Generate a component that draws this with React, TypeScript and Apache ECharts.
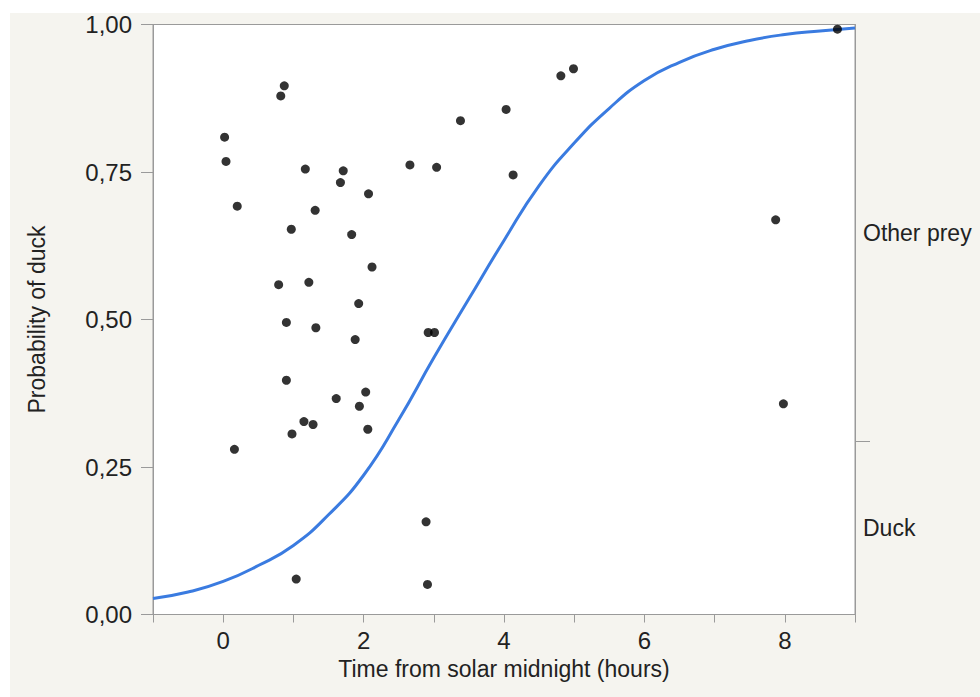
import React, { useEffect, useRef } from "react";
import * as echarts from "echarts";

// Observations: time from solar midnight (hours) and jittered position
const obsTime = [
  0.02, 0.04, 0.2, 0.82, 0.87, 1.17, 1.71, 1.67, 2.66, 2.07, 1.31, 0.97, 1.83, 2.12, 0.79,
  1.22, 1.93, 0.9, 1.32, 1.88, 2.92, 3.01, 0.9, 1.61, 2.03, 1.94, 1.15, 1.28, 0.98, 2.06,
  0.16, 2.89, 1.04, 2.91, 3.04, 3.38, 4.03, 4.13, 4.81, 4.99, 8.75, 7.87, 7.98,
];
const obsProb = [
  0.809, 0.768, 0.692, 0.879, 0.896, 0.755, 0.752, 0.732, 0.762, 0.713, 0.685, 0.653, 0.644,
  0.589, 0.559, 0.563, 0.527, 0.495, 0.486, 0.466, 0.478, 0.478, 0.397, 0.366, 0.377, 0.353,
  0.327, 0.322, 0.306, 0.314, 0.28, 0.157, 0.06, 0.051, 0.758, 0.837, 0.856, 0.745, 0.913,
  0.925, 0.992, 0.669, 0.357,
];

// Fitted logistic curve (every half hour)
const curveTime = [
  -1, -0.5, 0, 0.5, 1, 1.5, 2, 2.5, 3, 3.5, 4, 4.5, 5, 5.5, 6, 6.5, 7, 7.5, 8, 8.5, 9,
];
const curveProb = [
  0.027, 0.038, 0.056, 0.083, 0.117, 0.169, 0.236, 0.33, 0.435, 0.535, 0.634, 0.727, 0.799,
  0.858, 0.905, 0.936, 0.958, 0.973, 0.983, 0.989, 0.994,
];

// Right-hand axis: share of duck outcomes
const duckShare = 0.293;
const rightLabels = ["Duck", "Other prey"];

const xTickLabels = ["0", "2", "4", "6", "8"];

const FONT = "'Liberation Sans', Arial, Helvetica, sans-serif";
const AXIS_GREY = "#9a9a9a";
const TEXT = "#222222";

export default function App() {
  const ref = useRef<HTMLDivElement>(null);

  useEffect(() => {
    if (!ref.current) return;
    const chart = echarts.init(ref.current, null, { renderer: "svg" });
    const points = obsTime.map((t, i) => [t, obsProb[i]]);
    const curve = curveTime.map((t, i) => [t, curveProb[i]]);

    chart.setOption({
      animation: false,
      backgroundColor: "#ffffff",
      textStyle: { fontFamily: FONT },
      graphic: [
        {
          type: "rect",
          z: -10,
          silent: true,
          shape: { x: 10, y: 13, width: 980, height: 700 },
          style: { fill: "#f5f4ef" },
        },
      ],
      grid: {
        left: 153,
        right: 125,
        top: 24.5,
        bottom: 82.5,
        show: true,
        backgroundColor: "#ffffff",
        borderColor: AXIS_GREY,
        borderWidth: 1,
      },
      xAxis: {
        type: "value",
        min: -1,
        max: 9,
        interval: 1,
        name: "Time from solar midnight (hours)",
        nameLocation: "middle",
        nameGap: 36,
        nameTextStyle: { fontSize: 23, color: TEXT, fontFamily: FONT },
        axisLine: { show: true, onZero: false, lineStyle: { color: AXIS_GREY, width: 1 } },
        axisTick: { show: true, length: 8, lineStyle: { color: AXIS_GREY } },
        splitLine: { show: false },
        axisLabel: {
          fontSize: 24,
          color: TEXT,
          fontFamily: FONT,
          margin: 14,
          showMinLabel: true,
          showMaxLabel: true,
          formatter: (v: number) => {
            const s = String(Math.round(v));
            return xTickLabels.includes(s) && Math.abs(v - Math.round(v)) < 1e-6 ? s : "";
          },
        },
      },
      yAxis: [
        {
          type: "value",
          min: 0,
          max: 1,
          interval: 0.25,
          name: "Probability of duck",
          nameLocation: "middle",
          nameGap: 105,
          nameTextStyle: { fontSize: 23, color: TEXT, fontFamily: FONT },
          axisLine: { show: true, onZero: false, lineStyle: { color: AXIS_GREY, width: 1 } },
          axisTick: { show: true, length: 12, lineStyle: { color: AXIS_GREY } },
          splitLine: { show: false },
          axisLabel: {
            fontSize: 24,
            color: TEXT,
            fontFamily: FONT,
            margin: 21,
            formatter: (v: number) => v.toFixed(2).replace(".", ","),
          },
        },
        {
          type: "value",
          min: 0,
          max: 1,
          position: "right",
          axisLine: { show: true, onZero: false, lineStyle: { color: AXIS_GREY, width: 1 } },
          axisTick: {
            show: true,
            length: 15,
            customValues: [duckShare],
            lineStyle: { color: AXIS_GREY },
          },
          splitLine: { show: false },
          axisLabel: {
            fontSize: 23,
            color: TEXT,
            fontFamily: FONT,
            margin: 8,
            customValues: [duckShare / 2, (duckShare + 1) / 2],
            formatter: (v: number) => (v < duckShare ? rightLabels[0] : rightLabels[1]),
          },
        },
      ],
      series: [
        {
          type: "line",
          data: curve,
          smooth: 0.5,
          showSymbol: false,
          symbol: "none",
          lineStyle: { color: "#3a7be0", width: 3 },
          z: 2,
        },
        {
          type: "scatter",
          data: points,
          symbol: "circle",
          symbolSize: 9,
          itemStyle: { color: "#000000" },
          z: 3,
        },
      ],
    });

    return () => chart.dispose();
  }, []);

  return (
    <div
      ref={ref}
      style={{ position: "absolute", left: 0, top: 0, width: 980, height: 697 }}
    />
  );
}
